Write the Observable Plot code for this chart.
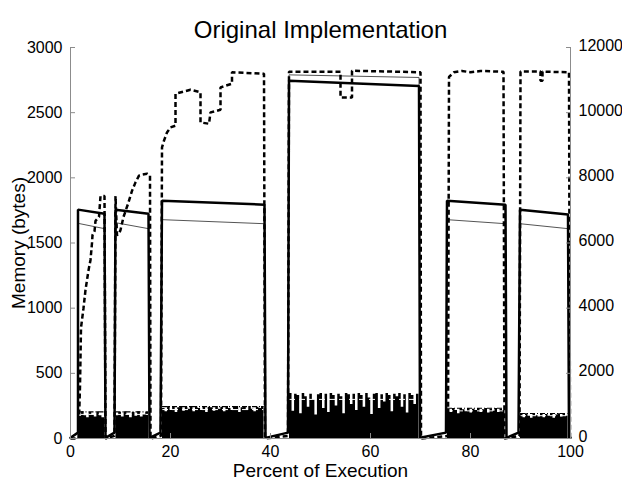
<!DOCTYPE html>
<html>
<head>
<meta charset="utf-8">
<script src="https://cdn.jsdelivr.net/npm/d3@7"></script>
<script src="https://cdn.jsdelivr.net/npm/@observablehq/plot@0.6"></script>
<style>
  html, body { margin: 0; padding: 0; background: white; }
</style>
</head>
<body>
<div id="chart"></div>
<script>
// ---- tick labels ----
const xTicks = [0, 20, 40, 60, 80, 100];
const leftTicks = [0, 500, 1000, 1500, 2000, 2500, 3000];
const rightTicks = [0, 2000, 4000, 6000, 8000, 10000, 12000];

// ---- solid lines (left axis, bytes) ----
const stepX  = [0, 1.5, 1.5, 6.8, 7.0, 8.8, 9.0, 15.6, 15.8, 18.0, 18.3, 38.8, 39.0, 43.5, 43.7, 69.7, 69.9, 75.1, 75.3, 87.0, 87.2, 89.6, 89.9, 99.5, 99.7, 100];
const thickY = [5, 45, 1756, 1725, 5, 45, 1756, 1725, 5, 45, 1825, 1794, 5, 45, 2745, 2705, 5, 45, 1825, 1794, 5, 45, 1756, 1718, 5, 5];
const thinY  = [5, 45, 1651, 1610, 5, 45, 1656, 1610, 5, 45, 1679, 1648, 5, 45, 2790, 2770, 5, 45, 1679, 1648, 5, 45, 1648, 1610, 5, 5];

// ---- dashed line (right axis) ----
const dashX = [0, 1.6, 1.9, 2.1, 2.6, 3.0, 3.6, 4.0, 4.3, 4.4, 4.8, 5.0, 5.7, 6.0, 6.8, 7.0,
  8.8, 9.0, 9.3, 9.7, 10.0, 10.6, 11.5, 12.3, 13.0, 13.7, 14.3, 15.3, 15.9, 16.0,
  18.1, 18.3, 18.7, 19.3, 20, 21, 21, 24, 26, 26, 27.7, 28, 30, 30, 32.3, 32.3, 38.7, 38.9,
  43.5, 43.7, 54, 54, 56.3, 56.3, 70, 70.1,
  75.5, 75.7, 76.7, 78.3, 80, 82, 86.6, 86.8,
  89.8, 90, 94, 94, 94.4, 94.4, 99.7, 99.9, 100];
const dashY = [0, 0, 1600, 3400, 4000, 4560, 5160, 5480, 6000, 6240, 6360, 6680, 6800, 7440, 7440, 0,
  80, 7440, 6240, 6280, 6400, 6800, 7200, 7600, 7860, 8068, 8100, 8128, 8068, 0,
  80, 8936, 9140, 9392, 9548, 9600, 10580, 10704, 10624, 9700, 9660, 10008, 10088, 10776, 10888, 11240, 11192, 0,
  80, 11256, 11256, 10468, 10468, 11288, 11240, 0,
  80, 11096, 11240, 11280, 11240, 11280, 11256, 0,
  80, 11260, 11260, 10980, 10980, 11260, 11240, 0, 0];

// ---- dense low-level noise (left axis, bytes) ----
const noiseBounds = [[1.7, 6.8], [9.1, 15.6], [18.4, 38.7], [43.8, 69.7], [75.4, 86.9], [90.0, 99.5]];
const noise1 = [170, 205, 175, 160, 200, 180, 165, 205, 175, 160, 195];
const noise2 = [175, 200, 165, 205, 180, 160, 200, 170, 205, 165, 180, 200, 170];
const noise3 = [230, 205, 245, 215, 240, 200, 235, 245, 210, 240, 225, 245, 205, 240, 230, 215, 245, 200, 240, 235, 210, 245, 225, 240, 205, 245, 230, 215, 240, 245, 200, 235, 240, 215, 245, 225, 205, 240, 230, 245, 215];
const noise4 = [345, 210, 340, 330, 190, 345, 320, 240, 340, 300, 180, 335, 345, 230, 340, 200, 345, 330, 250, 340, 320, 190, 345, 335, 260, 340, 215, 345, 330, 240, 345, 310, 185, 340, 345, 230, 335, 280, 345, 330, 205, 340, 320, 345, 240, 335, 195, 345, 330, 260, 340, 300];
const noise5 = [225, 200, 230, 215, 190, 230, 220, 205, 230, 195, 225, 215, 230, 200, 220, 230, 195, 225, 210, 230, 200, 225, 215, 230];
const noise6 = [185, 160, 190, 170, 155, 190, 175, 165, 190, 160, 185, 170, 190, 155, 180, 190, 165, 185, 170, 190];
const bandTop = [205, 205, 245, null, 232, 192];
const bandStreak = [185, 185, 222, 300, 212, 175];

// ---- build tables ----
const solid = stepX.map((x, i) => ({x, thick: thickY[i], thin: thinY[i]}));
const dashed = dashX.map((x, i) => ({x, v: dashY[i]}));
const profiles = [noise1, noise2, noise3, noise4, noise5, noise6];
const noise = profiles.flatMap((p, k) => {
  const [a, b] = noiseBounds[k];
  return p.map((v, j) => ({x: a + j * (b - a) / (p.length - 1), v, phase: k}));
});
const bands = noiseBounds.map(([a, b], k) => ({x1: a, x2: b, top: bandTop[k], streak: bandStreak[k]}));

const axisGray = "#8c8c8c";

const chart = Plot.plot({
  width: 622,
  height: 487,
  marginLeft: 70,
  marginRight: 52,
  marginTop: 47,
  marginBottom: 49,
  x: {domain: [0, 100]},
  y: {domain: [0, 3000]},
  style: {fontFamily: "'Liberation Sans', Arial, Helvetica, sans-serif", fontSize: "16px", background: "white", color: "black"},
  marks: [
    // noise mass
    Plot.areaY(noise, {x: "x", y: "v", z: "phase", fill: "black", curve: "step-after"}),
    Plot.ruleY(bands.filter(d => d.top != null), {y: "top", x1: "x1", x2: "x2", stroke: "black", strokeWidth: 1.2, strokeDasharray: "5,2,1,2"}),
    Plot.ruleY(bands, {y: "streak", x1: "x1", x2: "x2", stroke: "white", strokeWidth: 1, strokeDasharray: "6,4"}),
    // lines
    Plot.line(solid, {x: "x", y: "thin", stroke: "#555", strokeWidth: 1}),
    Plot.line(solid, {x: "x", y: "thick", stroke: "black", strokeWidth: 2.5, strokeLinejoin: "miter"}),
    Plot.line(dashed, {x: "x", y: d => d.v / 4, stroke: "black", strokeWidth: 2.5, strokeDasharray: "5,3", strokeLinecap: "butt", strokeLinejoin: "miter"}),
    // axis lines
    Plot.ruleY([0], {stroke: axisGray}),
    Plot.ruleX([0, 100], {stroke: axisGray}),
    // axes
    Plot.axisX({ticks: xTicks, tickFormat: d => String(d), tickSize: -5, tickPadding: 12, stroke: axisGray, label: null, fill: "black"}),
    Plot.axisY({ticks: leftTicks, tickFormat: d => String(d), tickSize: -5, tickPadding: 13, stroke: axisGray, label: null, fill: "black"}),
    Plot.axisY({anchor: "right", ticks: rightTicks.map(d => d / 4), tickFormat: () => "", tickSize: -5, stroke: axisGray, label: null}),
    Plot.axisY({anchor: "right", ticks: rightTicks.map(d => d / 4), tickFormat: d => String(d * 4), tickSize: 0, tickPadding: 8, dy: -2, label: null, fill: "black"}),
    // texts
    Plot.text(["Original Implementation"], {frameAnchor: "top", dy: -27, fontSize: 24, fill: "black"}),
    Plot.text(["Percent of Execution"], {frameAnchor: "bottom", dy: 38, fontSize: 19, fill: "black"}),
    Plot.text(["Memory (bytes)"], {frameAnchor: "left", dx: -52, rotate: -90, textAnchor: "middle", fontSize: 19, fill: "black"})
  ]
});
document.getElementById("chart").appendChild(chart);
</script>
</body>
</html>
